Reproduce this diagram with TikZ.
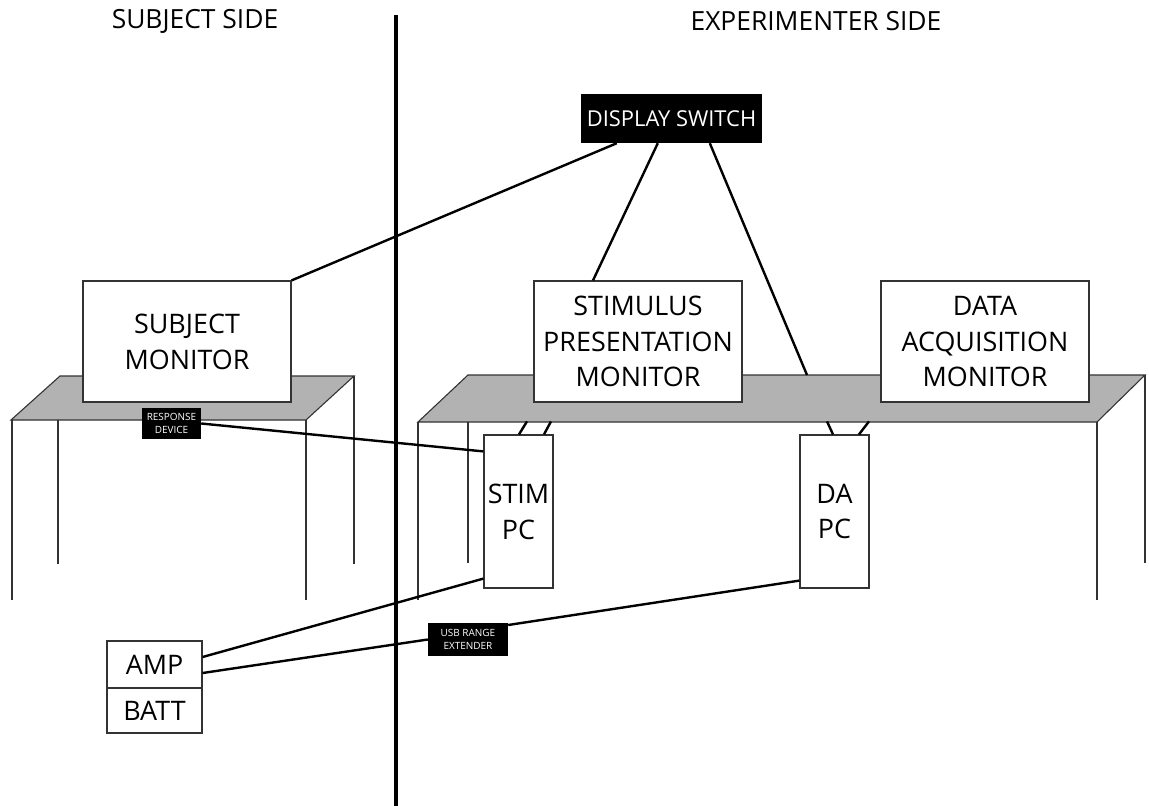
\documentclass[tikz,border=0pt]{standalone}
\usepackage{fontspec}
\setmainfont{Open Sans}
\begin{document}
\begin{tikzpicture}[x=1bp,y=-1bp,
  box/.style={draw=black!80, line width=1.2bp, fill=white, align=center, inner sep=0pt, font=\fontsize{27}{36}\selectfont},
  blackbox/.style={fill=black, text=white, align=center, inner sep=0pt},
  cable/.style={line width=2.4bp, black},
  tabletop/.style={draw=black!80, line width=1.1bp, fill=black!30},
  tableleg/.style={draw=black!80, line width=1.1bp}]
\useasboundingbox (0,0) rectangle (1149,806);
% tables
\filldraw[tabletop] (11,420) -- (60,376) -- (354,376) -- (306,420) -- cycle;
\filldraw[tabletop] (418,422) -- (468,375) -- (1145,375) -- (1097,422) -- cycle;
\foreach \x/\y/\z in {12/420/600, 58/420/564, 306/420/600, 354/376/564,
  418/422/600, 468/422/563, 1097/422/600, 1145/375/563}
  \draw[tableleg] (\x,\y) -- (\x,\z);
\coordinate (dajoin) at (807,375);
% titles
\node[font=\fontsize{26.5}{30}\selectfont] (subjside) at (195,21) {SUBJECT SIDE};
\node[font=\fontsize{26.5}{30}\selectfont] (expside) at (816,21) {EXPERIMENTER SIDE};
% devices
\node[blackbox, minimum width=181bp, minimum height=49bp, font=\fontsize{22}{26}\selectfont] (switch) at (671.5,118.5) {DISPLAY SWITCH};
\node[box, minimum width=208bp, minimum height=121bp] (submon) at (187,341.5) {SUBJECT\\MONITOR};
\node[box, minimum width=208bp, minimum height=121bp] (stimmon) at (638,341.5) {STIMULUS\\PRESENTATION\\MONITOR};
\node[box, minimum width=208bp, minimum height=121bp] (damon) at (985,341.5) {DATA\\ACQUISITION\\MONITOR};
\node[box, minimum width=69bp, minimum height=153bp] (stimpc) at (518.5,511.5) {STIM\\PC};
\node[box, minimum width=69bp, minimum height=153bp] (dapc) at (834.5,511.5) {DA\\PC};
\node[blackbox, minimum width=59bp, minimum height=31bp, font=\fontsize{10}{12.5}\selectfont] (resp) at (171.5,423.5) {RESPONSE\\DEVICE};
\node[blackbox, minimum width=80bp, minimum height=33bp, font=\fontsize{10}{12.5}\selectfont] (usb) at (468,639.5) {USB RANGE\\EXTENDER};
\node[box, minimum width=95bp, minimum height=47bp] (amp) at (154.5,664.5) {AMP};
\node[box, minimum width=95bp, minimum height=45bp] (batt) at (154.5,710.5) {BATT};
% cables
\draw[cable] ([xshift=36bp]switch.south west) -- (submon.north east);
\draw[cable] ([xshift=77bp]switch.south west) -- ([xshift=-45bp]stimmon.north);
\draw[cable] ([xshift=129bp]switch.south west) -- (dajoin);
\draw[cable] (resp.east) -- ([yshift=-17bp]stimpc.north west);
\draw[cable] ([yshift=7.5bp]amp.east) -- ([yshift=10bp]stimpc.south west);
\draw[cable] ([yshift=-8.5bp]amp.east) -- (usb.west);
\draw[cable] ([yshift=14.5bp]usb.east) -- ([yshift=8bp]dapc.south west);
\draw[cable] ([xshift=0.5bp]stimpc.north) -- ++(8,-13);
\draw[cable] ([xshift=25.5bp]stimpc.north) -- ++(7,-13);
\draw[cable] ([xshift=-1.5bp]dapc.north) -- ++(-6,-13);
\draw[cable] ([xshift=24.5bp]dapc.north) -- ++(10,-13);
% divider
\draw[line width=4bp] (396,15) -- (396,806);
\end{tikzpicture}
\end{document}
